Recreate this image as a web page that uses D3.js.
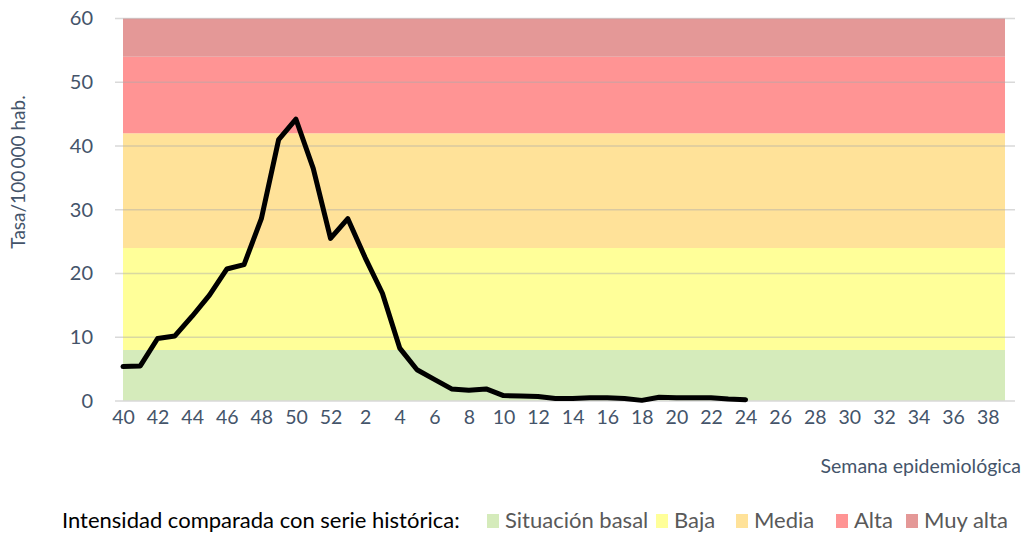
<!DOCTYPE html>
<html>
<head>
<meta charset="utf-8">
<script src="https://cdn.jsdelivr.net/npm/d3@7"></script>
<style>
  body { margin: 0; background: #fff; }
  text { font-family: Lato, "Open Sans", sans-serif; }
</style>
</head>
<body>
<div id="chart"></div>
<script>
// semanas epidemiologicas 40..52, 1..39
const weeks = [40,41,42,43,44,45,46,47,48,49,50,51,52,1,2,3,4,5,6,7,8,9,10,11,12,13,14,15,16,17,18,19,20,21,22,23,24,25,26,27,28,29,30,31,32,33,34,35,36,37,38,39];
// tasa observada (hasta semana 24)
const rate = [5.4,5.5,9.8,10.2,13.3,16.6,20.7,21.4,28.6,41.0,44.2,36.5,25.5,28.6,22.5,16.9,8.3,4.9,3.4,1.9,1.7,1.9,0.85,0.8,0.7,0.4,0.4,0.5,0.5,0.4,0.1,0.6,0.5,0.5,0.5,0.3,0.2];
const yTicks = [0,10,20,30,40,50,60];
// umbrales de intensidad
const levels = ["Situación basal","Baja","Media","Alta","Muy alta"];
const levelFrom = [0,8,24,42,54];
const levelTo = [8,24,42,54,60];
const levelColors = ["#d5ebbb","#ffff99","#ffe299","#ff9494","#e49897"];

const width = 1027, height = 533;
const margin = {top: 18.5, right: 22, bottom: 132, left: 123};

const svg = d3.select("#chart").append("svg")
  .attr("width", width).attr("height", height);

const x = d3.scalePoint()
  .domain(weeks.map(String))
  .range([margin.left, 1005]);

const y = d3.scaleLinear()
  .domain([0, 60])
  .range([401, margin.top]);

// bandas
svg.append("g").selectAll("rect")
  .data(levels)
  .join("rect")
    .attr("x", x("40"))
    .attr("width", x("39") - x("40"))
    .attr("y", (d, i) => y(levelTo[i]))
    .attr("height", (d, i) => y(levelFrom[i]) - y(levelTo[i]))
    .attr("fill", (d, i) => levelColors[i]);

// grid
svg.append("g").selectAll("line")
  .data(yTicks.slice(1))
  .join("line")
    .attr("x1", 115).attr("x2", 1015)
    .attr("y1", d => y(d)).attr("y2", d => y(d))
    .attr("stroke", "#aaa").attr("stroke-opacity", 0.45).attr("stroke-width", 1.3);

svg.append("line")
  .attr("x1", 115).attr("x2", 1015)
  .attr("y1", y(0)).attr("y2", y(0))
  .attr("stroke", "#d9d9d9").attr("stroke-width", 1.5);

// ejes
const yAxis = svg.append("g")
  .attr("transform", "translate(93,0)")
  .call(d3.axisLeft(y).tickValues(yTicks).tickSize(0).tickPadding(0));
yAxis.select(".domain").remove();
yAxis.selectAll("text")
  .attr("font-size", 20).attr("fill", "#44546a")
  .attr("font-family", "Lato, sans-serif");

const xAxis = svg.append("g")
  .attr("transform", "translate(0,401)")
  .call(d3.axisBottom(x).tickValues(weeks.filter(w => w % 2 === 0).map(String)).tickSize(0).tickPadding(9));
xAxis.select(".domain").remove();
xAxis.selectAll("text")
  .attr("font-size", 19.5).attr("fill", "#44546a")
  .attr("font-family", "Lato, sans-serif");

// linea
const line = d3.line()
  .x((d, i) => x(String(weeks[i])))
  .y(d => y(d));

svg.append("path")
  .datum(rate)
  .attr("d", line)
  .attr("fill", "none")
  .attr("stroke", "#000")
  .attr("stroke-width", 5)
  .attr("stroke-linejoin", "round")
  .attr("stroke-linecap", "round");

// titulos de ejes
svg.append("text")
  .attr("transform", "translate(25,172) rotate(-90)")
  .attr("text-anchor", "middle")
  .attr("font-size", 19).attr("fill", "#44546a")
  .text("Tasa/100\u2009000 hab.");

svg.append("text")
  .attr("x", 1021).attr("y", 473)
  .attr("text-anchor", "end")
  .attr("font-size", 19.5).attr("fill", "#44546a")
  .text("Semana epidemiológica");

// leyenda
svg.append("text")
  .attr("x", 62).attr("y", 528)
  .attr("font-size", 22).attr("fill", "#000")
  .text("Intensidad comparada con serie histórica:");

const legX = [487, 656, 736, 836, 906];
const leg = svg.append("g").selectAll("g")
  .data(levels)
  .join("g")
    .attr("transform", (d, i) => `translate(${legX[i]},0)`);
leg.append("rect")
  .attr("x", 0).attr("y", 514).attr("width", 12).attr("height", 14)
  .attr("fill", (d, i) => levelColors[i]);
leg.append("text")
  .attr("x", 18).attr("y", 528)
  .attr("font-size", 22).attr("fill", "#595959")
  .text(d => d);
</script>
</body>
</html>
